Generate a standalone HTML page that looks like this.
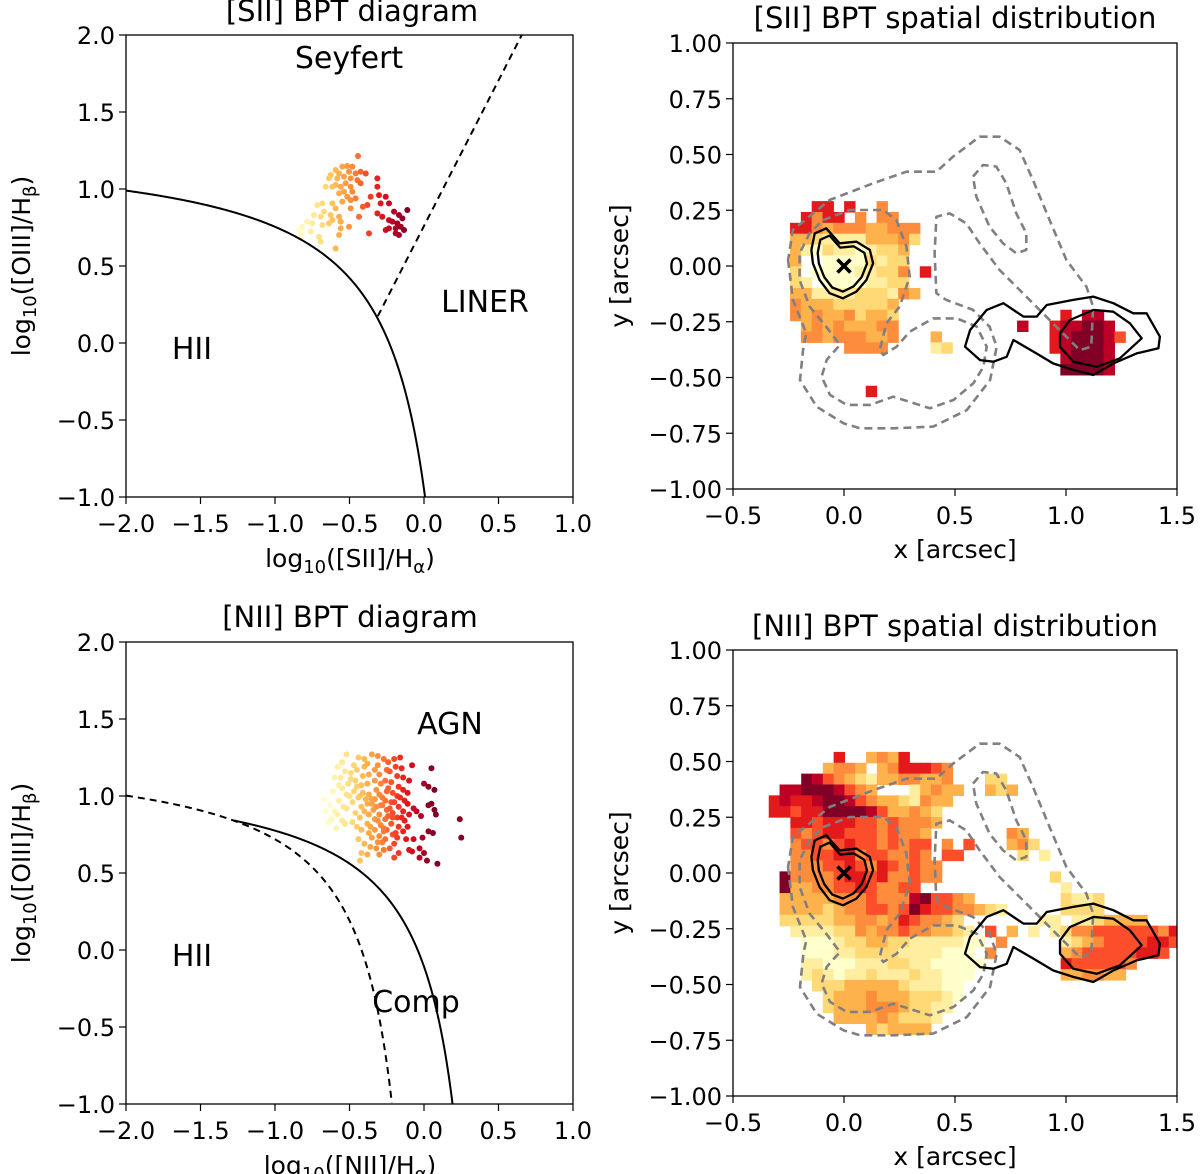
<!DOCTYPE html>
<html><head><meta charset="utf-8"><style>
html,body{margin:0;padding:0;background:#fff;}
svg{display:block;font-family:"DejaVu Sans","Liberation Sans",sans-serif;}
</style></head><body>
<svg id="fig" width="1200" height="1174" viewBox="0 0 1200 1174" xmlns="http://www.w3.org/2000/svg">
<defs>
<clipPath id="cTL"><rect x="126" y="35" width="447" height="462"/></clipPath>
<clipPath id="cBL"><rect x="126" y="642" width="447" height="462"/></clipPath>
<clipPath id="cTR"><rect x="733" y="43" width="444" height="446"/></clipPath>
<clipPath id="cBR"><rect x="733" y="650" width="444" height="446"/></clipPath>
</defs>
</svg>
<script>
// ---------- DATA ----------
const siiX=[-0.443,-0.548,-0.515,-0.481,-0.593,-0.626,-0.570,-0.503,-0.459,-0.425,-0.391,-0.638,-0.582,-0.537,-0.492,-0.447,-0.425,-0.526,-0.593,-0.660,-0.615,-0.559,-0.492,-0.537,-0.481,-0.570,-0.515,-0.459,-0.492,-0.548,-0.615,-0.682,-0.716,-0.593,-0.492,-0.671,-0.738,-0.626,-0.693,-0.570,-0.783,-0.615,-0.559,-0.436,-0.638,-0.749,-0.817,-0.682,-0.559,-0.503,-0.839,-0.760,-0.828,-0.705,-0.570,-0.593,-0.369,-0.693,
-0.313,-0.313,-0.358,-0.302,-0.257,-0.291,-0.380,-0.235,-0.313,-0.280,-0.201,-0.168,-0.112,-0.235,-0.212,-0.179,-0.145,-0.190,-0.156,-0.134,-0.257,-0.235,-0.190,-0.168,-0.410];
const siiY=[1.214,1.145,1.149,1.145,1.123,1.091,1.101,1.112,1.101,1.112,1.101,1.069,1.069,1.080,1.069,1.058,1.037,1.037,1.026,1.015,1.015,1.015,1.015,0.982,0.982,0.972,0.950,0.939,0.928,0.918,0.907,0.907,0.896,0.874,0.874,0.853,0.831,0.831,0.820,0.820,0.788,0.798,0.788,0.820,0.777,0.777,0.755,0.766,0.744,0.755,0.734,0.723,0.701,0.690,0.701,0.614,0.712,0.658,
1.069,1.015,0.950,0.960,0.950,0.907,0.896,0.907,0.842,0.820,0.853,0.831,0.864,0.798,0.788,0.777,0.809,0.744,0.755,0.734,0.734,0.744,0.712,0.701,0.885];
const niiX=[-0.08,0.05,0.00,0.03,0.07,0.05,0.03,0.07,0.08,0.24,0.25,0.06,0.03,-0.01,-0.07,-0.03,0.00,0.02,0.09,-0.08,-0.03,-0.10,-0.02,-0.05,-0.07,
-0.67,-0.66,-0.64,-0.62,-0.60,-0.61,-0.60,-0.58,-0.55,-0.56,-0.55,-0.57,-0.58,-0.55,-0.53,-0.52,-0.50,-0.51,-0.49,-0.47,-0.45,-0.46,-0.47,-0.48,-0.46,-0.48,-0.45,-0.42,-0.43,-0.42,-0.43,-0.42,-0.41,-0.40,-0.40,-0.38,-0.37,-0.38,-0.37,-0.38,-0.37,-0.38,-0.37,-0.35,-0.33,-0.33,-0.34,-0.33,-0.32,-0.33,-0.33,-0.31,-0.30,-0.29,-0.30,-0.29,-0.30,-0.29,-0.30,-0.28,-0.26,-0.25,-0.26,-0.25,-0.26,-0.25,-0.26,-0.25,-0.23,-0.22,-0.21,-0.22,-0.21,-0.22,-0.21,-0.20,-0.18,-0.17,-0.18,-0.17,-0.18,-0.17,-0.18,-0.19,-0.15,-0.14,-0.14,-0.13,-0.14,-0.13,-0.14,-0.12,-0.11,-0.10,-0.11,-0.11,-0.10,-0.44,-0.40,-0.36,-0.32,-0.27,-0.23,-0.42,-0.38,-0.30,-0.43,-0.17,-0.20,-0.35,-0.52,-0.44,-0.31,-0.27,-0.24,-0.20,-0.16,
-0.35,-0.28,-0.24,-0.20,-0.16,-0.31,-0.27,-0.23,-0.19,-0.15,-0.53,-0.49,-0.45,-0.41,-0.39,-0.35,-0.32,-0.28,-0.24,-0.21,-0.27,-0.31,-0.36,-0.40,-0.44,-0.52,-0.57,-0.63,-0.59,-0.54];
const niiY=[1.20,1.18,1.08,1.06,1.04,0.95,0.94,0.91,0.88,0.85,0.73,0.76,0.77,0.73,0.72,0.66,0.63,0.58,0.56,0.64,0.60,0.65,0.87,0.90,0.92,
0.98,0.90,0.83,0.85,0.90,1.03,1.12,1.19,1.22,1.12,1.05,0.97,0.88,0.84,0.82,0.92,1.00,1.08,1.15,1.20,1.17,1.10,1.03,0.96,0.89,0.83,0.80,0.78,0.86,0.93,1.00,1.07,1.13,1.19,1.24,1.21,1.14,1.08,1.01,0.95,0.88,0.82,0.76,0.73,0.78,0.85,0.91,0.98,1.04,1.10,1.17,1.20,1.14,1.08,1.01,0.94,0.88,0.81,0.74,0.70,0.72,0.78,0.85,0.91,0.97,1.03,1.10,1.17,1.16,1.09,1.02,0.96,0.89,0.82,0.75,0.69,0.73,0.80,0.86,0.93,1.00,1.06,1.13,1.19,1.18,1.12,1.04,0.97,0.90,0.84,0.77,0.72,0.80,0.88,0.95,1.02,1.10,0.72,0.69,0.67,0.66,0.65,0.66,0.63,0.62,0.62,0.58,0.63,0.60,1.27,1.27,1.25,1.26,1.24,1.22,1.24,1.25,
0.98,0.94,0.87,0.96,0.99,0.84,0.79,0.92,0.76,0.86,1.16,1.11,1.06,1.02,0.98,0.95,0.93,0.99,1.05,0.86,0.77,0.70,0.80,0.90,0.99,1.01,1.07,0.94,0.79,0.93];
// spatial map level grids (. = empty, 1..9 colour level)
const siiMap=[
"..77.7..5.......................",
".7577.5.55......................",
"775455544555....................",
"443222244453....................",
"42132212334.....................",
"4..11113233.....................",
"3.111122335.7...................",
"32.11112233.....................",
"442222333254....................",
"5444333334......................",
"5454453443...............7.88...",
".454544455...........8..788998..",
".554555445...4..........7899986.",
".....5555....23.........789998..",
".........................89998..",
".........................99998..",
"................................",
".......7........................"];
const niiMap=[
"......7..4547",
".....4554.4577765",
"...98654324455445...33",
".889998654...24544..434",
"78778998654432544",
"7767799998644543",
"..77677766565554",
"..6567766656554.......54",
"..5665676656566.5.6...453",
"..5566775665565.66.....3.2",
"..55566765765655",
".955556776755655..........3",
".9445566765566.............2",
".444445556555896654........3223",
".444434556656976655432.....3333",
".33333445545765543.......22.2234444",
"..22223354556554432.6.4.2.235566666657",
"...11123344332222211.5.....23456666776",
"...1112233332222111.5......4566666776",
"...22111222332211111.......7666665",
"...2321223222322111........445544",
"....33344444322211",
".....3444544433321",
".....344455543322",
"......4444543332",
".........434444"];
const siiMapOrigin=[-0.243,0.291];
const niiMapOrigin=[-0.339,0.543];
// contours (arcsec)
const contOuterX=[-0.252,-0.230,-0.170,-0.183,-0.198,-0.123,-0.003,0.072,0.222,0.402,0.553,0.658,0.688,0.656,0.581,0.461,0.416,0.408,0.416,0.476,0.551,0.611,0.701,0.806,0.911,0.986,1.062,1.114,1.122,1.092,1.002,0.926,0.851,0.791,0.701,0.611,0.491,0.416,0.281,0.131,-0.065,-0.230];
const contOuterY=[0.027,-0.152,-0.302,-0.362,-0.511,-0.631,-0.705,-0.728,-0.728,-0.720,-0.646,-0.511,-0.362,-0.272,-0.197,-0.152,-0.122,0.057,0.221,0.236,0.191,0.102,-0.018,-0.122,-0.227,-0.302,-0.377,-0.362,-0.182,-0.093,0.027,0.206,0.386,0.520,0.580,0.580,0.490,0.423,0.423,0.371,0.296,0.162];
const contMidX=[-0.095,0.026,0.176,0.236,0.281,0.296,0.251,0.191,0.161,0.177,0.237,0.297,0.402,0.508,0.598,0.643,0.628,0.583,0.493,0.387,0.222,0.117,0.012,-0.063,-0.101,-0.078,-0.018,-0.035,-0.080,-0.155,-0.200,-0.200,-0.155];
const contMidY=[0.206,0.251,0.251,0.206,0.087,-0.048,-0.182,-0.257,-0.377,-0.399,-0.362,-0.294,-0.235,-0.235,-0.272,-0.362,-0.452,-0.526,-0.601,-0.638,-0.586,-0.623,-0.623,-0.578,-0.496,-0.421,-0.354,-0.332,-0.272,-0.182,-0.063,0.057,0.146];
const contInX=[0.581,0.626,0.686,0.731,0.776,0.821,0.821,0.776,0.716,0.656,0.596];
const contInY=[0.401,0.453,0.446,0.371,0.236,0.147,0.072,0.057,0.102,0.176,0.311];
const nucX=[-0.147,-0.132,-0.080,-0.020,0.056,0.116,0.131,0.101,0.056,-0.005,-0.065,-0.110,-0.140];
const nucY=[0.072,0.146,0.169,0.102,0.109,0.072,0.012,-0.063,-0.115,-0.145,-0.122,-0.063,0.012];
const blobX=[0.545,0.568,0.643,0.718,0.808,0.868,0.913,1.033,1.123,1.213,1.303,1.363,1.423,1.416,1.318,1.213,1.123,1.033,0.943,0.853,0.763,0.733,0.673,0.613];
const blobY=[-0.362,-0.287,-0.197,-0.167,-0.227,-0.227,-0.175,-0.152,-0.137,-0.167,-0.212,-0.212,-0.317,-0.369,-0.392,-0.437,-0.489,-0.466,-0.437,-0.384,-0.332,-0.407,-0.429,-0.422];
const blobInX=[0.973,1.018,1.123,1.213,1.288,1.341,1.243,1.138,1.033,0.973];
const blobInY=[-0.302,-0.242,-0.197,-0.205,-0.257,-0.324,-0.414,-0.452,-0.429,-0.362];
const bptYTicks=[2.0,1.5,1.0,0.5,0.0,-0.5,-1.0];
const bptXTicks=[-2.0,-1.5,-1.0,-0.5,0.0,0.5,1.0];
const mapYTicks=[1.00,0.75,0.50,0.25,0.00,-0.25,-0.50,-0.75,-1.00];
const mapXTicks=[-0.5,0.0,0.5,1.0,1.5];

// ---------- helpers ----------
const NS="http://www.w3.org/2000/svg";
const svg=document.getElementById('fig');
const TICK=24, TITLE=29, LAB=25, ANN=30;
function mk(tag,attrs,parent){const e=document.createElementNS(NS,tag);for(const k in attrs)e.setAttribute(k,attrs[k]);(parent||svg).appendChild(e);return e;}
const stops=["#ffffcc","#ffeda0","#fed976","#feb24c","#fd8d3c","#fc4e2a","#e31a1c","#bd0026","#800026"];
function hex(c){return [parseInt(c.slice(1,3),16),parseInt(c.slice(3,5),16),parseInt(c.slice(5,7),16)];}
function cmap(t){t=Math.max(0,Math.min(1,t));const p=t*8;const i=Math.min(7,Math.floor(p));const f=p-i;const a=hex(stops[i]),b=hex(stops[i+1]);return `rgb(${Math.round(a[0]+(b[0]-a[0])*f)},${Math.round(a[1]+(b[1]-a[1])*f)},${Math.round(a[2]+(b[2]-a[2])*f)})`;}
function fmt(v,d){const s=Math.abs(v).toFixed(d);return (v<-1e-9?"\u2212":"")+s;}

function panel(p){
  const g=mk('g',{});
  
  
  p.xt.forEach(v=>{const x=p.X(v);
    mk('line',{x1:x,x2:x,y1:p.y1,y2:p.y1+7,stroke:'#000','stroke-width':1.2},g);
    const t=mk('text',{x:x,y:p.y1+35,'font-size':TICK,'text-anchor':'middle'},g);t.textContent=fmt(v,1);
    
    });
  p.yt.forEach(v=>{const y=p.Y(v);
    mk('line',{x1:p.x0-7,x2:p.x0,y1:y,y2:y,stroke:'#000','stroke-width':1.2},g);
    const t=mk('text',{x:p.x0-11,y:y+9,'font-size':TICK,'text-anchor':'end'},g);t.textContent=fmt(v,p.yd);
    
    });
  return g;
}
function frame(p){const r=mk('rect',{x:p.x0,y:p.y0,width:p.x1-p.x0,height:p.y1-p.y0,fill:'none',stroke:'#000','stroke-width':1.3});
  
  }
function txt(s,x,y,size,name,anchor){const t=mk('text',{x:x,y:y,'font-size':size,'text-anchor':anchor||'middle'});t.textContent=s;
  
  return t;}
function curve(X,Y,f,a,b,attrs,clip,name){let d='';const n=300;for(let i=0;i<=n;i++){const x=a+(b-a)*i/n;const y=f(x);d+=(i?'L':'M')+X(x).toFixed(2)+' '+Y(y).toFixed(2);}
  const e=mk('path',Object.assign({d:d,fill:'none','clip-path':`url(#${clip})`},attrs));
  
  }
function logLabel(t,inner,sub){t.innerHTML='log<tspan font-size="18" dy="6">10</tspan><tspan dy="-6">('+inner+'/H</tspan><tspan font-size="18" dy="6">'+sub+'</tspan><tspan dy="-6">)</tspan>';}

// ---------- BPT panels ----------
function bpt(y0,clip,top){
  const p={x0:126,x1:573,y0:y0,y1:y0+462,X:x=>126+(x+2)*149,Y:y=>y0+(2-y)*154,xt:bptXTicks,yt:bptYTicks,yd:1,name:top?'sii-bpt-axes':'nii-bpt-axes'};
  panel(p);
  const xs=top?siiX:niiX, ys=top?siiY:niiY;
  const lo=top?-0.85:-0.65, hi=top?-0.12:0.05;
  const gp=mk('g',{'clip-path':`url(#${clip})`});
  
  
  xs.forEach((x,i)=>{const c=mk('circle',{cx:p.X(x),cy:p.Y(ys[i]),r:3,fill:cmap((x-lo)/(hi-lo))},gp);
    
    });
  return p;
}
const tl=bpt(35,'cTL',true);
curve(tl.X,tl.Y,x=>0.72/(x-0.32)+1.30,-2,0.0075,{stroke:'#000','stroke-width':2},'cTL','kewley-sii-line');
curve(tl.X,tl.Y,x=>1.89*x+0.76,-0.31,0.66,{stroke:'#000','stroke-width':2,'stroke-dasharray':'7,5'},'cTL','seyfert-liner-line');
frame(tl);
txt('[SII] BPT diagram',352,21,TITLE,'sii-bpt-title');
txt('Seyfert',349,68,ANN,'seyfert-label');
txt('LINER',485,312,ANN,'liner-label');
txt('HII',192,359,ANN,'hii-label');
let xl=txt('',350,567,LAB,'x-axis-title');logLabel(xl,'[SII]','α');
let yl=txt('',0,0,LAB,'y-axis-title');yl.setAttribute('transform','translate(30,266) rotate(-90)');logLabel(yl,'[OIII]','β');

const bl=bpt(642,'cBL',false);
curve(bl.X,bl.Y,x=>0.61/(x-0.05)+1.30,-2,-0.216,{stroke:'#000','stroke-width':2,'stroke-dasharray':'7,5'},'cBL','kauffmann-line');
curve(bl.X,bl.Y,x=>0.61/(x-0.47)+1.19,-1.28,0.192,{stroke:'#000','stroke-width':2},'cBL','kewley-nii-line');
frame(bl);
txt('[NII] BPT diagram',350,627,TITLE,'nii-bpt-title');
txt('AGN',450,734,ANN,'agn-label');
txt('HII',192,966,ANN,'hii-label');
txt('Comp',416,1012,ANN,'comp-label');
xl=txt('',350,1174,LAB,'x-axis-title');logLabel(xl,'[NII]','α');
yl=txt('',0,0,LAB,'y-axis-title');yl.setAttribute('transform','translate(30,873) rotate(-90)');logLabel(yl,'[OIII]','β');

// ---------- spatial maps ----------
function poly(p,xs,ys,attrs,clip,name,scale){let d='';const cx=-0.005,cy=0.005;xs.forEach((x,i)=>{let xx=x,yy=ys[i];if(scale){xx=cx+(x-cx)*scale;yy=cy+(yy-cy)*scale;}d+=(i?'L':'M')+p.X(xx).toFixed(1)+' '+p.Y(yy).toFixed(1);});d+='Z';
  const e=mk('path',Object.assign({d:d,fill:'none','clip-path':`url(#${clip})`,'stroke-linejoin':'round'},attrs));
  
  }
function spatial(y0,clip,grid,origin,top){
  const p={x0:733,x1:1177,y0:y0,y1:y0+446,X:x=>733+(x+0.5)*222,Y:y=>y0+(1-y)*223,xt:mapXTicks,yt:mapYTicks,yd:2,name:top?'sii-map-axes':'nii-map-axes'};
  panel(p);
  const cell=0.0487;
  const gm=mk('g',{'clip-path':`url(#${clip})`});
  
  
  grid.forEach((row,r)=>{for(let c=0;c<row.length;c++){const ch=row[c];if(ch<'1'||ch>'9')continue;
    const x=origin[0]+c*cell,y=origin[1]-r*cell;
    const rc=mk('rect',{x:p.X(x).toFixed(2),y:p.Y(y).toFixed(2),width:(cell*222+0.6).toFixed(2),height:(cell*223+0.6).toFixed(2),fill:stops[+ch-1]},gm);
    
    }});
  const gs={stroke:'#808080','stroke-width':2.6,'stroke-dasharray':'8,5'};
  poly(p,contOuterX,contOuterY,gs,clip,'outer-dashed-contour');
  poly(p,contMidX,contMidY,gs,clip,'middle-dashed-contour');
  poly(p,contInX,contInY,gs,clip,'inner-dashed-contour');
  const ks={stroke:'#000','stroke-width':2.3};
  poly(p,nucX,nucY,ks,clip,'nucleus-contour-outer');
  poly(p,nucX,nucY,ks,clip,'nucleus-contour-inner',0.8);
  poly(p,blobX,blobY,ks,clip,'companion-contour-outer');
  poly(p,blobInX,blobInY,ks,clip,'companion-contour-inner');
  const cx=p.X(0),cy=p.Y(0);
  const m=mk('path',{d:`M${cx-6.5} ${cy-6.5}L${cx+6.5} ${cy+6.5}M${cx-6.5} ${cy+6.5}L${cx+6.5} ${cy-6.5}`,stroke:'#000','stroke-width':3.6});
  
  
  frame(p);
  return p;
}
spatial(43,'cTR',siiMap,siiMapOrigin,true);
txt('[SII] BPT spatial distribution',955,28,TITLE,'sii-map-title');
txt('x [arcsec]',955,558,LAB,'x-axis-title');
yl=txt('y [arcsec]',0,0,LAB,'y-axis-title');yl.setAttribute('transform','translate(628,266) rotate(-90)');
spatial(650,'cBR',niiMap,niiMapOrigin,false);
txt('[NII] BPT spatial distribution',955,636,TITLE,'nii-map-title');
txt('x [arcsec]',955,1165,LAB,'x-axis-title');
yl=txt('y [arcsec]',0,0,LAB,'y-axis-title');yl.setAttribute('transform','translate(628,873) rotate(-90)');
</script>
</body></html>
